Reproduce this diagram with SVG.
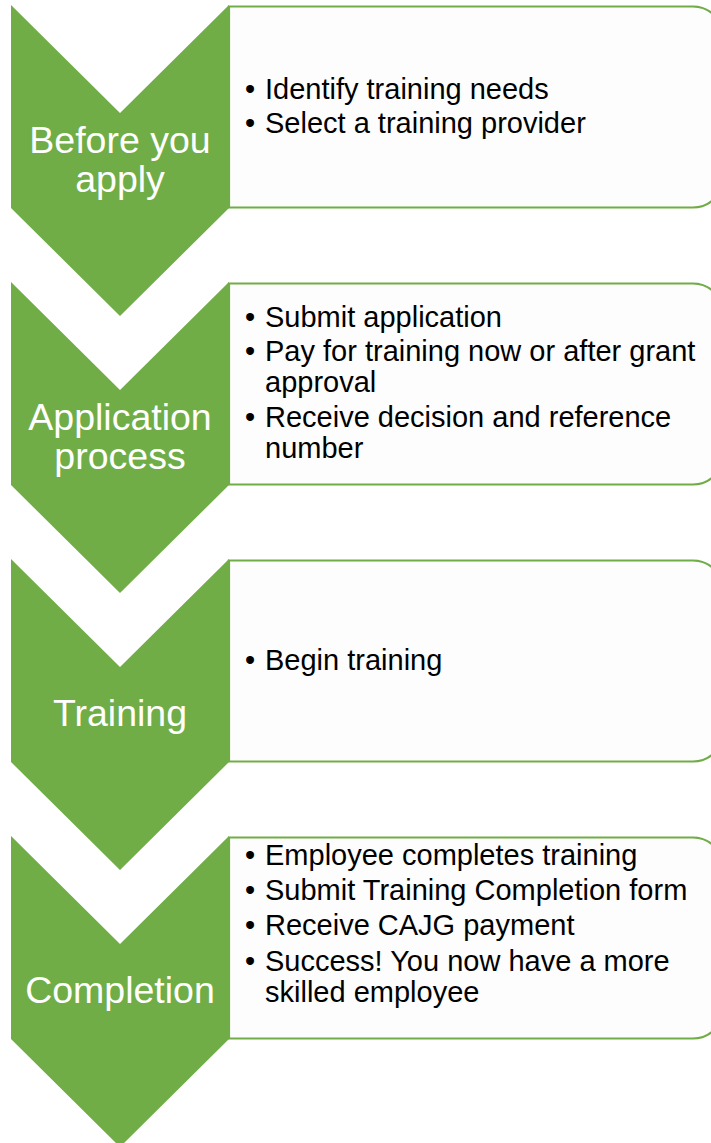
<svg xmlns="http://www.w3.org/2000/svg" width="711" height="1143" viewBox="0 0 711 1143">
<defs>
<style>
.box{fill:#FDFDFD;stroke:#70AD47;stroke-width:2.2}
.chev{fill:#70AD47}
.lbl{font-family:"Liberation Sans",Arial,sans-serif;font-size:37.5px;fill:#FFFFFF;text-anchor:middle}
.txt{font-family:"Liberation Sans",Arial,sans-serif;font-size:29px;fill:#000000}
</style>
</defs>
<rect width="711" height="1143" fill="#FFFFFF"/>
<g id="step1">
<path class="box" d="M229,6.5 H693 A30,30 0 0 1 723,36.5 V177.5 A30,30 0 0 1 693,207.5 H229 Z"/>
<path class="chev" d="M11,5 L120,113 L229,5 V208 L120,316 L11,208 Z"/>
<text class="lbl" x="120" y="153">Before you</text>
<text class="lbl" x="120" y="192">apply</text>
<text class="txt" x="245" y="99">•</text><text class="txt" x="265" y="99">Identify training needs</text>
<text class="txt" x="245" y="133">•</text><text class="txt" x="265" y="133">Select a training provider</text>
</g>
<g id="step2">
<path class="box" d="M229,283.5 H693 A30,30 0 0 1 723,313.5 V454.5 A30,30 0 0 1 693,484.5 H229 Z"/>
<path class="chev" d="M11,282 L120,390 L229,282 V485 L120,593 L11,485 Z"/>
<text class="lbl" x="120" y="430">Application</text>
<text class="lbl" x="120" y="469">process</text>
<text class="txt" x="245" y="327">•</text><text class="txt" x="265" y="327">Submit application</text>
<text class="txt" x="245" y="361">•</text><text class="txt" x="265" y="361">Pay for training now or after grant</text>
<text class="txt" x="265" y="392">approval</text>
<text class="txt" x="245" y="427">•</text><text class="txt" x="265" y="427">Receive decision and reference</text>
<text class="txt" x="265" y="458">number</text>
</g>
<g id="step3">
<path class="box" d="M229,560.5 H693 A30,30 0 0 1 723,590.5 V731.5 A30,30 0 0 1 693,761.5 H229 Z"/>
<path class="chev" d="M11,559 L120,667 L229,559 V762 L120,870 L11,762 Z"/>
<text class="lbl" x="120" y="726">Training</text>
<text class="txt" x="245" y="670">•</text><text class="txt" x="265" y="670">Begin training</text>
</g>
<g id="step4">
<path class="box" d="M229,837.5 H693 A30,30 0 0 1 723,867.5 V1008.5 A30,30 0 0 1 693,1038.5 H229 Z"/>
<path class="chev" d="M11,836 L120,944 L229,836 V1039 L120,1147 L11,1039 Z"/>
<text class="lbl" x="120" y="1003">Completion</text>
<text class="txt" x="245" y="865">•</text><text class="txt" x="265" y="865">Employee completes training</text>
<text class="txt" x="245" y="900">•</text><text class="txt" x="265" y="900">Submit Training Completion form</text>
<text class="txt" x="245" y="935">•</text><text class="txt" x="265" y="935">Receive CAJG payment</text>
<text class="txt" x="245" y="971">•</text><text class="txt" x="265" y="971">Success! You now have a more</text>
<text class="txt" x="265" y="1002">skilled employee</text>
</g>
<g id="connectors"></g>
</svg>
